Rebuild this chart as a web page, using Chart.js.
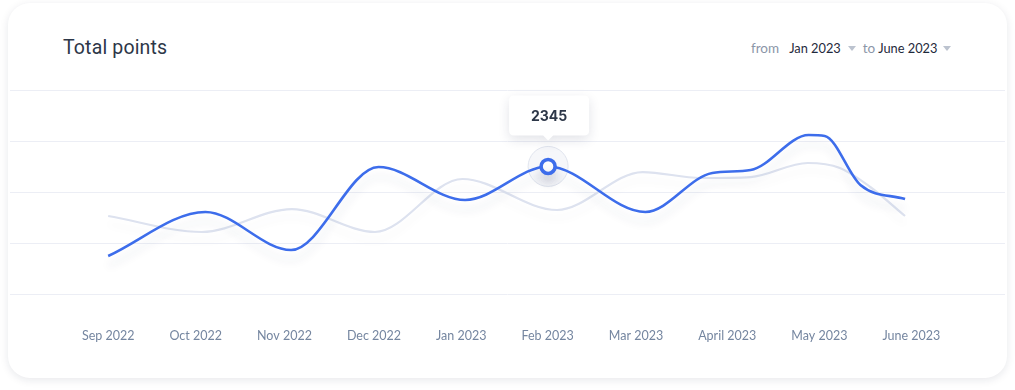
<!DOCTYPE html>
<html>
<head>
<meta charset="utf-8">
<script src="https://cdn.jsdelivr.net/npm/chart.js@4/dist/chart.umd.min.js"></script>
<style>
  html, body { margin: 0; padding: 0; background: #ffffff; width: 1015px; height: 390px; overflow: hidden; }
  #card { position: absolute; left: 8px; top: 3px; width: 999px; height: 375px; background: #fff;
          border-radius: 22px; box-shadow: 0 2px 9px rgba(20, 30, 60, 0.10); }
  #title { position: absolute; left: 63px; top: 36px; font-family: Roboto, sans-serif; font-size: 19.5px;
           color: #2d3748; letter-spacing: 0.15px; }
  #range { position: absolute; left: 751px; top: 37px; font-family: Lato, sans-serif; white-space: nowrap; }
  #range span { display: inline-block; vertical-align: baseline; }
  #range .muted { color: #8b96a8; font-size: 13.5px; }
  #range .val { color: #1f2a3c; font-size: 12.8px; }
  #range .caret { width: 0; height: 0; border-left: 4px solid transparent; border-right: 4px solid transparent;
                  border-top: 5px solid #bcc3cf; position: relative; top: -2px; }
  canvas { position: absolute; left: 0; top: 0; }
</style>
</head>
<body>
<div id="card"></div>
<div id="title">Total points</div>
<div id="range"><span class="muted">from</span><span class="val" style="margin-left:10px">Jan 2023</span><span class="caret" style="margin-left:7px"></span><span class="muted" style="margin-left:7px">to</span><span class="val" style="margin-left:3px">June 2023</span><span class="caret" style="margin-left:6px"></span></div>
<canvas id="c" width="1015" height="390"></canvas>
<script>
// ---- data ----
const months = ['Sep 2022', 'Oct 2022', 'Nov 2022', 'Dec 2022', 'Jan 2023', 'Feb 2023', 'Mar 2023', 'April 2023', 'May 2023', 'June 2023'];
const currentX = [0, 1.09, 2.05, 3.03, 4.0, 4.93, 6.02, 6.77, 7.2, 7.85, 8.03, 8.43, 8.93];
const currentY = [698, 1507, 809, 2334, 1728, 2345, 1507, 2224, 2279, 2922, 2904, 2003, 1746];
const previousX = [0, 1.05, 2.06, 2.99, 3.97, 5.03, 5.99, 6.64, 7.2, 7.84, 8.2, 8.54, 8.93];
const previousY = [1434, 1140, 1562, 1140, 2114, 1544, 2242, 2132, 2150, 2408, 2316, 1967, 1434];
const highlightIndex = 5;
const yTicks = [0, 937.5, 1875, 2812.5, 3750];

// ---- layout constants ----
const PAD_L = 10, PAD_R = 10, PAD_T = 90, PAD_B = 13;
const X_MIN = -1.1, X_MAX = 10.05;
const LABEL_FONT = 12.5;
const BLUE = '#3d6deb';
const GRAY = '#dde2ef';

const shadowPlugin = {
  id: 'lineShadow',
  beforeDatasetDraw(chart, args) {
    const ctx = chart.ctx;
    ctx.save();
    if (args.index === 0) {
      ctx.shadowColor = 'rgba(40, 50, 90, 0.10)';
      ctx.shadowBlur = 9;
      ctx.shadowOffsetY = 10;
    } else {
      ctx.shadowColor = 'rgba(40, 50, 90, 0.05)';
      ctx.shadowBlur = 8;
      ctx.shadowOffsetY = 8;
    }
  },
  afterDatasetDraw(chart) { chart.ctx.restore(); }
};

const highlightPlugin = {
  id: 'highlight',
  beforeDatasetsDraw(chart) {
    const pt = chart.getDatasetMeta(0).data[highlightIndex];
    if (!pt) return;
    const ctx = chart.ctx;
    ctx.save();
    ctx.beginPath();
    ctx.arc(pt.x, pt.y, 20, 0, Math.PI * 2);
    ctx.fillStyle = 'rgba(236, 238, 245, 0.45)';
    ctx.fill();
    ctx.strokeStyle = 'rgba(222, 226, 236, 0.9)';
    ctx.lineWidth = 1;
    ctx.stroke();
    ctx.restore();
  },
  afterDraw(chart) {
    const pt = chart.getDatasetMeta(0).data[highlightIndex];
    if (!pt) return;
    const ctx = chart.ctx;
    const w = 80, h = 40, r = 5;
    const x0 = pt.x - w / 2 + 1, y1 = pt.y - 31, y0 = y1 - h;
    ctx.save();
    ctx.shadowColor = 'rgba(30, 40, 80, 0.13)';
    ctx.shadowBlur = 12;
    ctx.shadowOffsetY = 4;
    ctx.fillStyle = '#ffffff';
    ctx.beginPath();
    ctx.moveTo(x0 + r, y0);
    ctx.lineTo(x0 + w - r, y0);
    ctx.quadraticCurveTo(x0 + w, y0, x0 + w, y0 + r);
    ctx.lineTo(x0 + w, y1 - r);
    ctx.quadraticCurveTo(x0 + w, y1, x0 + w - r, y1);
    ctx.lineTo(pt.x + 5, y1);
    ctx.lineTo(pt.x, y1 + 5);
    ctx.lineTo(pt.x - 5, y1);
    ctx.lineTo(x0 + r, y1);
    ctx.quadraticCurveTo(x0, y1, x0, y1 - r);
    ctx.lineTo(x0, y0 + r);
    ctx.quadraticCurveTo(x0, y0, x0 + r, y0);
    ctx.closePath();
    ctx.fill();
    ctx.shadowColor = 'transparent';
    ctx.fillStyle = '#2d3748';
    ctx.font = '700 14px Inter, Roboto, sans-serif';
    ctx.textAlign = 'center';
    ctx.textBaseline = 'middle';
    ctx.fillText(String(currentY[highlightIndex]), x0 + w / 2, y0 + h / 2 + 1);
    ctx.restore();
  }
};

const ctx = document.getElementById('c').getContext('2d');
new Chart(ctx, {
  type: 'line',
  data: {
    datasets: [
      {
        label: 'current',
        data: currentX.map((x, i) => ({ x, y: currentY[i] })),
        borderColor: BLUE,
        borderWidth: 2.6,
        cubicInterpolationMode: 'monotone',
        pointRadius: c => (c.dataIndex === highlightIndex ? 7 : 0),
        pointHoverRadius: c => (c.dataIndex === highlightIndex ? 7 : 0),
        pointBackgroundColor: '#ffffff',
        pointBorderColor: BLUE,
        pointBorderWidth: 3.6,
        fill: false
      },
      {
        label: 'previous',
        data: previousX.map((x, i) => ({ x, y: previousY[i] })),
        borderColor: GRAY,
        borderWidth: 2.2,
        cubicInterpolationMode: 'monotone',
        pointRadius: 0,
        pointHoverRadius: 0,
        fill: false
      }
    ]
  },
  options: {
    responsive: false,
    animation: false,
    events: [],
    layout: { padding: { left: PAD_L, right: PAD_R, top: PAD_T, bottom: PAD_B } },
    plugins: { legend: { display: false }, tooltip: { enabled: false } },
    scales: {
      x: {
        type: 'linear',
        min: X_MIN,
        max: X_MAX,
        grid: { display: false, drawTicks: false },
        border: { display: false },
        afterBuildTicks(scale) {
          const c = scale.ctx;
          c.save();
          c.font = LABEL_FONT + 'px Lato, sans-serif';
          const w = months.map(m => c.measureText(m).width);
          c.restore();
          const plotW = scale.chart.width - PAD_L - PAD_R;
          const pxPerUnit = plotW / (X_MAX - X_MIN);
          const span = (months.length - 1) * pxPerUnit;
          let sumHalf = 0;
          for (let i = 1; i < w.length; i++) sumHalf += (w[i - 1] + w[i]) / 2;
          const gap = (span - sumHalf) / (months.length - 1);
          const vals = [0];
          for (let i = 1; i < w.length; i++) vals.push(vals[i - 1] + ((w[i - 1] + w[i]) / 2 + gap) / pxPerUnit);
          scale.ticks = vals.map(v => ({ value: v }));
        },
        ticks: {
          autoSkip: false,
          maxRotation: 0,
          padding: 34,
          color: '#7586a0',
          font: { family: 'Lato, sans-serif', size: LABEL_FONT },
          callback: (v, i) => months[i]
        }
      },
      y: {
        min: yTicks[0],
        max: yTicks[yTicks.length - 1],
        afterBuildTicks(scale) { scale.ticks = yTicks.map(v => ({ value: v })); },
        grid: { color: '#eceef5', lineWidth: 1, drawTicks: false },
        border: { display: false },
        ticks: { display: false }
      }
    }
  },
  plugins: [shadowPlugin, highlightPlugin]
});
</script>
</body>
</html>
